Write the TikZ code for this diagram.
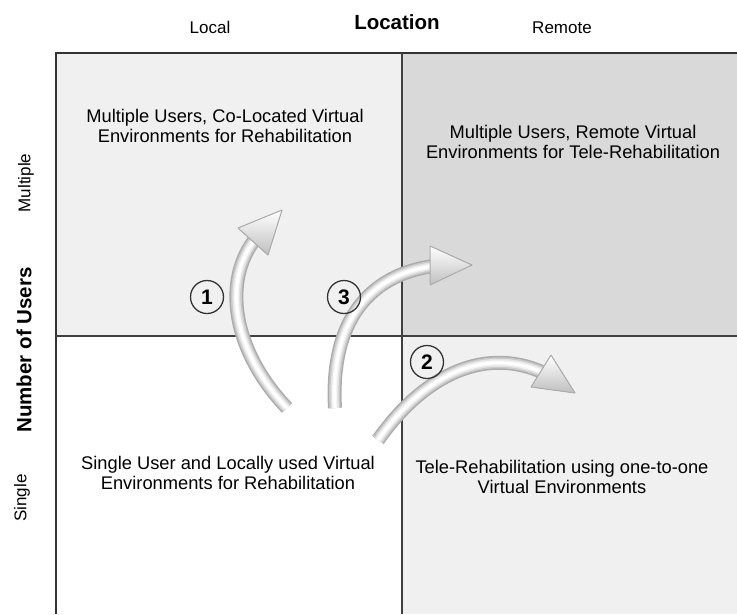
\documentclass[tikz,border=0pt]{standalone}
\usepackage{fontspec}
\setmainfont{Liberation Sans}
\begin{document}
\begin{tikzpicture}[x=1pt,y=-1pt,
    lbl/.style={font=\fontsize{17}{19}\selectfont},
    axis/.style={font=\fontsize{20.5}{22}\selectfont\bfseries},
    quad/.style={align=center,font=\fontsize{18.3}{20.5}\selectfont},
    num/.style={circle,draw=black!80,line width=1.3pt,minimum size=33pt,inner sep=0pt,font=\fontsize{21}{21}\selectfont\bfseries},
    tube/.style={line width=14pt,draw=gray!65,postaction={draw=gray!42,line width=11pt},
      postaction={draw=gray!22,line width=8pt},postaction={draw=gray!8,line width=5pt},postaction={draw=white,line width=2.5pt}},
    head/.style={draw=gray!65,line width=1pt,line join=round,top color=white,bottom color=gray!50}]
  \useasboundingbox (0,0) rectangle (737,614);
  % quadrants
  \fill[black!6] (56,53) rectangle (402,336);
  \fill[black!15] (402,53) rectangle (737,336);
  \fill[black!6] (402,336) rectangle (737,614);
  \draw[black!80,line width=1.5pt] (56,614) -- (56,53) -- (737,53);
  \draw[black!75,line width=1.3pt] (402,53) -- (402,614) (56,336) -- (737,336);
  % axis labels
  \node[axis] (loc) at (397,22) {Location};
  \node[lbl] (local) at (210,27) {Local};
  \node[lbl] (remote) at (562,28) {Remote};
  \node[axis,rotate=90] (users) at (24,350) {Number of Users};
  \node[lbl,rotate=90] (multi) at (26,183) {Multiple};
  \node[lbl,rotate=90] (single) at (22,498) {Single};
  % quadrant texts
  \node[quad] (tl) at (225,126) {Multiple Users, Co-Located Virtual\\Environments for Rehabilitation};
  \node[quad] (tr) at (573,142) {Multiple Users, Remote Virtual\\Environments for Tele-Rehabilitation};
  \node[quad] (bl) at (228,473) {Single User and Locally used Virtual\\Environments for Rehabilitation};
  \node[quad] (br) at (562,477) {Tele-Rehabilitation using one-to-one\\Virtual Environments};
  % arrows
  \draw[tube] (287,408) .. controls (232,350) and (222,280) .. (256,238);
  \filldraw[head] (282,210) -- (238,228) -- (268,255) -- cycle;
  \draw[tube] (335,408) .. controls (330,320) and (370,275) .. (433,266);
  \filldraw[head] (472,265) -- (430,246) -- (430,285) -- cycle;
  \draw[tube] (378,440) .. controls (420,380) and (480,345) .. (542,372);
  \filldraw[head] (575,393) -- (551,355) -- (531,387) -- cycle;
  \node[num] (n1) at (207,297) {1};
  \node[num] (n3) at (344,297) {3};
  \node[num] (n2) at (427,362) {2};
\end{tikzpicture}
\end{document}
